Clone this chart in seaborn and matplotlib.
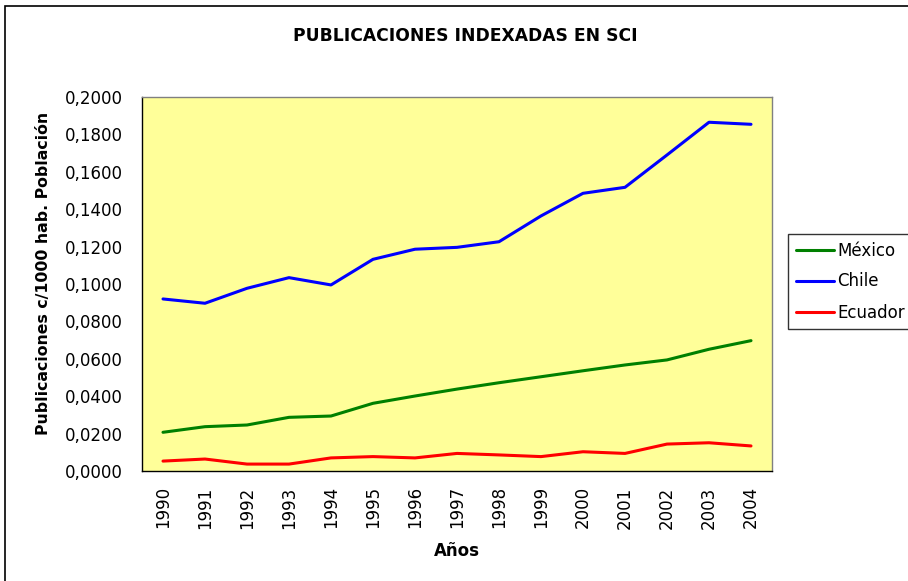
import pandas as pd
import seaborn as sns
import matplotlib.pyplot as plt
from matplotlib.patches import Rectangle
from matplotlib.ticker import FuncFormatter, MultipleLocator

years = ['1990', '1991', '1992', '1993', '1994', '1995', '1996', '1997',
         '1998', '1999', '2000', '2001', '2002', '2003', '2004']
mexico = [0.0207, 0.0237, 0.0246, 0.0287, 0.0294, 0.0362, 0.0401, 0.0438,
          0.0472, 0.0504, 0.0536, 0.0567, 0.0594, 0.0651, 0.0697]
chile = [0.0920, 0.0897, 0.0977, 0.1034, 0.0995, 0.1132, 0.1186, 0.1196,
         0.1226, 0.1364, 0.1485, 0.1517, 0.1690, 0.1865, 0.1854]
ecuador = [0.0053, 0.0064, 0.0037, 0.0037, 0.0070, 0.0077, 0.0070, 0.0094,
           0.0086, 0.0077, 0.0103, 0.0094, 0.0144, 0.0151, 0.0134]

df = pd.DataFrame({'pos': list(range(len(years))) * 3,
                   'valor': mexico + chile + ecuador,
                   'pais': ['México'] * 15 + ['Chile'] * 15 + ['Ecuador'] * 15})

sns.set_style('white')
plt.rcParams['font.family'] = ['DejaVu Sans']
plt.rcParams['text.color'] = 'black'
plt.rcParams['xtick.color'] = 'black'
plt.rcParams['ytick.color'] = 'black'
plt.rcParams['axes.labelcolor'] = 'black'

fig = plt.figure(figsize=(9.08, 5.81), dpi=100)
ax = fig.add_axes([142/908, 110/581, 630/908, 374/581])

colores = {'México': '#008000', 'Chile': '#0000FF', 'Ecuador': '#FF0000'}
sns.lineplot(data=df, x='pos', y='valor', hue='pais', palette=colores,
             linewidth=2.2, ax=ax, legend=False)

ax.set_facecolor('#FFFF99')
ax.set_xlim(-0.5, 14.5)
ax.set_ylim(0, 0.2)
ax.yaxis.set_major_locator(MultipleLocator(0.02))
ax.yaxis.set_major_formatter(FuncFormatter(lambda v, p: f'{v:.4f}'.replace('.', ',')))
ax.set_xticks(range(len(years)))
ax.set_xticklabels(years, rotation=90)
ax.set_xticks([i - 0.5 for i in range(len(years) + 1)], minor=True)
ax.tick_params(axis='x', which='major', length=0, pad=11, labelsize=12)
ax.tick_params(axis='x', which='minor', length=5, width=1, color='black', direction='out')
ax.tick_params(axis='y', length=5, width=1, color='black', direction='out', labelsize=12, pad=9)
for s in ['top', 'right']:
    ax.spines[s].set_color('#808080')
for s in ['left', 'bottom']:
    ax.spines[s].set_color('black')
for s in ax.spines.values():
    s.set_linewidth(1)

ax.set_xlabel('Años', fontsize=12, fontweight='bold', labelpad=10)
ax.set_ylabel('Publicaciones c/1000 hab. Población', fontsize=11.3, fontweight='bold')
ax.yaxis.set_label_coords(-91/630, 0.527)
fig.text(465/908, 1 - 36/581, 'PUBLICACIONES INDEXADAS EN SCI', ha='center', va='center',
         fontsize=12.3, fontweight='bold')

# legend
handles = [plt.Line2D([], [], color=colores[k], lw=2.2) for k in colores]
leg = fig.legend(handles, list(colores), loc='upper left',
                 bbox_to_anchor=(788/908, 1 - 234/581), fontsize=12, frameon=True,
                 fancybox=False, handlelength=2.3, handletextpad=0.2, labelspacing=0.78,
                 borderpad=0.45, borderaxespad=0)
leg.get_frame().set_edgecolor('black')
leg.get_frame().set_linewidth(1)

# chart border
fig.patches.append(Rectangle((5/908, -0.05), 1.2, 1 - 6/581 + 0.05, transform=fig.transFigure,
                             fill=False, edgecolor='black', linewidth=1.2))

plt.savefig('out.png', dpi=100)
